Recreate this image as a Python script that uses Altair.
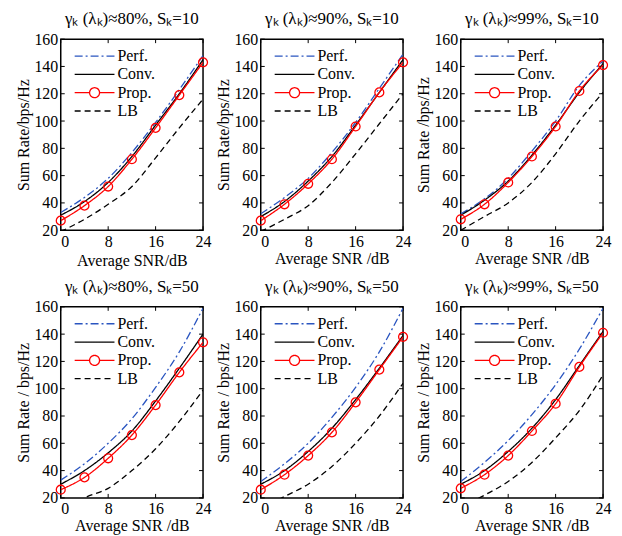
import altair as alt
import pandas as pd

X = [0, 4, 8, 12, 16, 20, 24]
SERIES = ["Perf.", "Conv.", "Prop.", "LB"]
COLORS = ["#2a55c0", "#000000", "#ff0000", "#000000"]
DASHES = [[8, 3, 2, 3], [1, 0], [1, 0], [6, 4]]
PCTS = ["80%", "90%", "99%"]
SK = [10, 50]
YTITLES = [["Sum Rate/bps/Hz", "Sum Rate/bps/Hz", "Sum Rate /bps/Hz"],
           ["Sum Rate / bps/Hz", "Sum Rate / bps/Hz", "Sum Rate / bps/Hz"]]
XTITLES = [["Average SNR/dB", "Average SNR /dB", "Average SNR /dB"],
           ["Average SNR /dB", "Average SNR /dB", "Average SNR /dB"]]
XTICKS = [0, 8, 16, 24]
YTICKS = [20, 40, 60, 80, 100, 120, 140, 160]

# S_K = 10
perf_80_10 = [33, 44, 58, 77, 99, 123, 148]
conv_80_10 = [31, 41, 55, 74, 97, 120, 145]
prop_80_10 = [27, 38, 52, 72, 95, 119, 143]
lb_80_10 = [19, 28, 39, 52, 73, 95, 116]

perf_90_10 = [32, 44, 58, 77, 99, 124, 149]
conv_90_10 = [30, 41, 56, 74, 97, 121, 145]
prop_90_10 = [27, 39, 54, 72, 96, 121, 143]
lb_90_10 = [19, 28, 38, 55, 76, 98, 120]

perf_99_10 = [32, 43, 58, 78, 100, 126, 144]
conv_99_10 = [31, 42, 56, 75, 97, 121, 142]
prop_99_10 = [28, 39, 55, 74, 96, 122, 141]
lb_99_10 = [20, 30, 40, 55, 76, 100, 121]

# S_K = 50
perf_80_50 = [33, 45, 60, 78, 101, 127, 159]
conv_80_50 = [30, 40, 53, 69, 91, 115, 140]
prop_80_50 = [26, 35, 49, 66, 88, 112, 134]
lb_80_50 = [10, 20, 27, 40, 56, 76, 99]

perf_90_50 = [32, 45, 60, 79, 101, 127, 159]
conv_90_50 = [30, 40, 54, 71, 92, 115, 139]
prop_90_50 = [26, 37, 51, 68, 90, 114, 138]
lb_90_50 = [12, 21, 30, 43, 60, 80, 104]

perf_99_50 = [32, 46, 62, 81, 103, 129, 159]
conv_99_50 = [30, 40, 54, 71, 92, 117, 142]
prop_99_50 = [27, 37, 51, 69, 89, 116, 141]
lb_99_50 = [13, 22, 32, 46, 64, 84, 110]

PANELS = [
    [[perf_80_10, conv_80_10, prop_80_10, lb_80_10],
     [perf_90_10, conv_90_10, prop_90_10, lb_90_10],
     [perf_99_10, conv_99_10, prop_99_10, lb_99_10]],
    [[perf_80_50, conv_80_50, prop_80_50, lb_80_50],
     [perf_90_50, conv_90_50, prop_90_50, lb_90_50],
     [perf_99_50, conv_99_50, prop_99_50, lb_99_50]],
]

FONT = "Liberation Serif"
LINE_SYMBOL = "M-2.222,0H2.222"
PROP_SYMBOL = ("M-2.222,0H-0.556M0.556,0H2.222M0.556,0A0.556,0.556,0,1,1,-0.556,0"
               "A0.556,0.556,0,1,1,0.556,0")
W, H = 143, 192
XMIN, XMAX, YMIN, YMAX = 0, 24, 20, 160
TICK_PX = 4


def panel(vals, title, ytitle, xtitle, xtitle_pad):
    rows = []
    for s, v in zip(SERIES, vals):
        for x, y in zip(X, v):
            rows.append({"series": s, "snr": x, "rate": y})
    df = pd.DataFrame(rows)

    # inward tick marks on all four sides (MATLAB style)
    tx = TICK_PX * (XMAX - XMIN) / W
    ty = TICK_PX * (YMAX - YMIN) / H
    trows = []
    for v in XTICKS:
        trows.append({"snr": v, "snr2": v, "rate": YMIN, "rate2": YMIN + ty})
        trows.append({"snr": v, "snr2": v, "rate": YMAX - ty, "rate2": YMAX})
    for v in YTICKS:
        trows.append({"snr": XMIN, "snr2": XMIN + tx, "rate": v, "rate2": v})
        trows.append({"snr": XMAX - tx, "snr2": XMAX, "rate": v, "rate2": v})
    tdf = pd.DataFrame(trows)

    xenc = alt.X("snr:Q", scale=alt.Scale(domain=[XMIN, XMAX], nice=False),
                 axis=alt.Axis(values=XTICKS, title=xtitle, titlePadding=xtitle_pad,
                               labelAlign=alt.ExprRef(expr="datum.value == 0 ? 'left' : 'center'")))
    yenc = alt.Y("rate:Q", scale=alt.Scale(domain=[YMIN, YMAX], nice=False),
                 axis=alt.Axis(values=YTICKS, title=ytitle))
    leg = alt.Legend(title=None, orient="none", legendX=24, legendY=7,
                     symbolType=alt.ExprRef(expr="datum.value === 'Prop.' ? '" + PROP_SYMBOL
                                            + "' : '" + LINE_SYMBOL + "'"),
                     symbolSize=324, symbolStrokeWidth=1.3, symbolFillColor="transparent",
                     labelFont=FONT, labelFontSize=16, labelColor="black",
                     labelOffset=13, rowPadding=0.4, padding=0)
    ticks = alt.Chart(tdf).mark_rule(color="black", strokeWidth=1).encode(
        x=xenc, x2="snr2:Q", y=yenc, y2="rate2:Q")
    lines = alt.Chart(df).mark_line(interpolate="monotone", clip=True, strokeWidth=1.3).encode(
        x=xenc, y=yenc,
        color=alt.Color("series:N", scale=alt.Scale(domain=SERIES, range=COLORS), legend=leg),
        strokeDash=alt.StrokeDash("series:N", scale=alt.Scale(domain=SERIES, range=DASHES), legend=leg),
    )
    points = alt.Chart(df[df.series == "Prop."]).mark_point(
        shape="circle", filled=False, size=80, color="#ff0000", strokeWidth=1.3, opacity=1
    ).encode(x=xenc, y=yenc)
    return alt.layer(ticks, lines, points).properties(
        width=W, height=H,
        title=alt.Title(title, font=FONT, fontSize=17, fontWeight="normal", color="black", offset=3),
    )


rows = []
for r, sk in enumerate(SK):
    charts = []
    for c, pct in enumerate(PCTS):
        t = "γₖ (λₖ)≈" + pct + ", Sₖ=" + str(sk)
        pad = 3 if (r == 0 and c == 0) else 1
        charts.append(panel(PANELS[r][c], t, YTITLES[r][c], XTITLES[r][c], pad))
    rows.append(alt.hconcat(*charts, spacing=3).resolve_scale(color="independent", strokeDash="independent")
                .resolve_legend(color="independent", strokeDash="independent"))

chart = alt.vconcat(*rows, spacing=8).resolve_scale(
    color="independent", strokeDash="independent"
).resolve_legend(color="independent", strokeDash="independent").properties(
    padding={"left": 7, "top": 0, "right": 2, "bottom": 2}
).configure_view(stroke="black", strokeWidth=1.5).configure_axis(
    grid=False, domain=False, ticks=False, labelFont=FONT, titleFont=FONT,
    labelFontSize=16, titleFontSize=16, titleFontWeight="normal",
    labelColor="black", titleColor="black", labelPadding=3, titlePadding=2,
)

chart.save("out.html", embed_options={"renderer": "svg", "actions": False})
